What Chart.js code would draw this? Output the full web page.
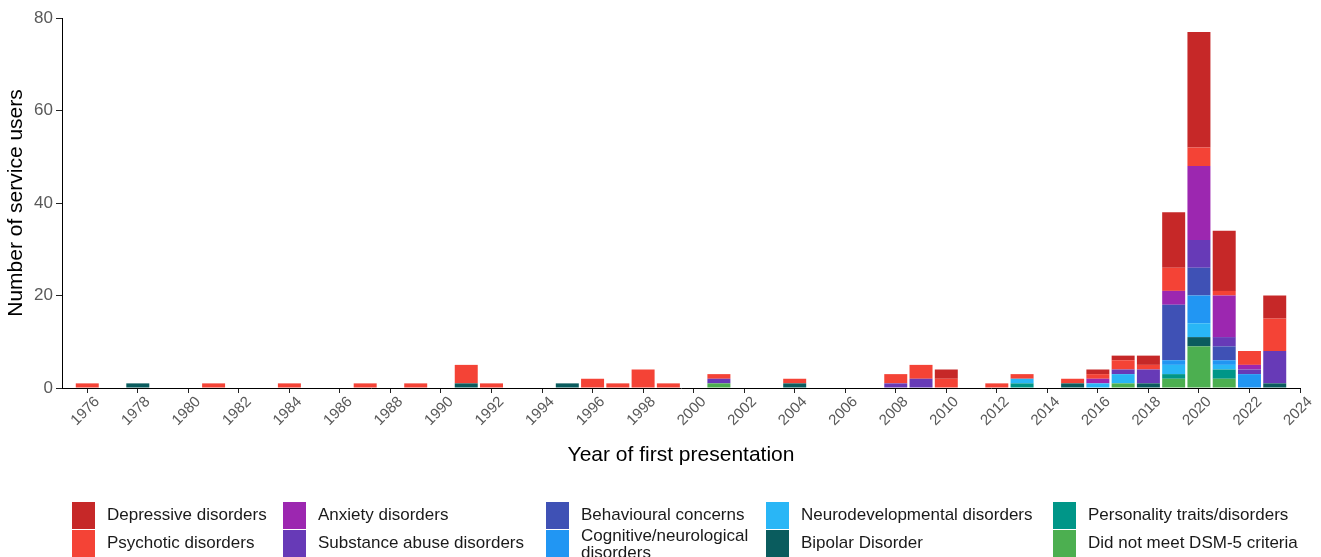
<!DOCTYPE html>
<html>
<head>
<meta charset="utf-8">
<script src="https://cdn.jsdelivr.net/npm/chart.js@4.4.1/dist/chart.umd.min.js"></script>
<style>
  html, body { margin: 0; padding: 0; background: #fff; }
  #wrap { position: relative; width: 1321px; height: 557px; overflow: hidden; font-family: 'Liberation Sans', Arial, sans-serif; }
  #c { position: absolute; left: 0; top: 0; }
  .lg-box { position: absolute; width: 23px; height: 27px; }
  .lg-text { position: absolute; font-size: 17px; color: #1a1a1a; line-height: 17px; width: 180px; }
</style>
</head>
<body>
<div id="wrap">
  <canvas id="c" width="1321" height="557"></canvas>
  <div id="legend"></div>
</div>
<script>
// years on the x axis, 1975..2024
const years = []
for (let y = 1975; y <= 2024; y++) years.push(String(y))

// counts per year, rows of ten years: 1975-84, 1985-94, 1995-2004, 2005-14, 2015-24
const depressive = [
  0,0,0,0,0,0,0,0,0,0,
  0,0,0,0,0,0,0,0,0,0,
  0,0,0,0,0,0,0,0,0,0,
  0,0,0,0,0,2,0,0,0,0,
  0,1,1,2,12,25,13,0,5,0
]
const psychotic = [
  0,1,0,0,0,0,1,0,0,1,
  0,0,1,0,1,0,4,1,0,0,
  0,2,1,4,1,0,1,0,0,1,
  0,0,0,2,3,2,0,1,1,0,
  1,1,2,1,5,4,1,3,7,0
]
const anxiety = [
  0,0,0,0,0,0,0,0,0,0,
  0,0,0,0,0,0,0,0,0,0,
  0,0,0,0,0,0,0,0,0,0,
  0,0,0,0,0,0,0,0,0,0,
  0,1,0,0,3,16,9,1,0,0
]
const substance = [
  0,0,0,0,0,0,0,0,0,0,
  0,0,0,0,0,0,0,0,0,0,
  0,0,0,0,0,0,1,0,0,0,
  0,0,0,1,2,0,0,0,0,0,
  0,0,1,3,0,6,2,1,7,0
]
const behavioural = [
  0,0,0,0,0,0,0,0,0,0,
  0,0,0,0,0,0,0,0,0,0,
  0,0,0,0,0,0,0,0,0,0,
  0,0,0,0,0,0,0,0,0,0,
  0,0,0,0,12,6,3,0,0,0
]
const cognitive = [
  0,0,0,0,0,0,0,0,0,0,
  0,0,0,0,0,0,0,0,0,0,
  0,0,0,0,0,0,0,0,0,0,
  0,0,0,0,0,0,0,0,0,0,
  0,0,0,0,1,6,1,3,0,0
]
const neurodevelopmental = [
  0,0,0,0,0,0,0,0,0,0,
  0,0,0,0,0,0,0,0,0,0,
  0,0,0,0,0,0,0,0,0,0,
  0,0,0,0,0,0,0,0,1,0,
  0,1,2,0,2,3,1,0,0,0
]
const bipolar = [
  0,0,0,1,0,0,0,0,0,0,
  0,0,0,0,0,0,1,0,0,0,
  1,0,0,0,0,0,0,0,0,1,
  0,0,0,0,0,0,0,0,0,0,
  1,0,0,1,0,2,0,0,1,0
]
const personality = [
  0,0,0,0,0,0,0,0,0,0,
  0,0,0,0,0,0,0,0,0,0,
  0,0,0,0,0,0,0,0,0,0,
  0,0,0,0,0,0,0,0,1,0,
  0,0,0,0,1,0,2,0,0,0
]
const notMet = [
  0,0,0,0,0,0,0,0,0,0,
  0,0,0,0,0,0,0,0,0,0,
  0,0,0,0,0,0,1,0,0,0,
  0,0,0,0,0,0,0,0,0,0,
  0,0,1,0,2,9,2,0,0,0
]

// legend order (top of stack first)
const seriesNames = [
  'Depressive disorders', 'Psychotic disorders',
  'Anxiety disorders', 'Substance abuse disorders',
  'Behavioural concerns', 'Cognitive/neurological disorders',
  'Neurodevelopmental disorders', 'Bipolar Disorder',
  'Personality traits/disorders', 'Did not meet DSM-5 criteria'
]
const seriesValues = [
  depressive, psychotic, anxiety, substance, behavioural,
  cognitive, neurodevelopmental, bipolar, personality, notMet
]
const seriesColors = [
  '#C62828', '#F44336', '#9C27B0', '#673AB7', '#3F51B5',
  '#2196F3', '#29B6F6', '#0A5C5E', '#009688', '#4CAF50'
]

const yTicks = [0, 20, 40, 60, 80]

// chart.js stacks the first dataset at the bottom, so reverse the legend order
const datasets = seriesNames.map((name, i) => ({
  label: name,
  data: seriesValues[i],
  backgroundColor: seriesColors[i],
  borderWidth: 0,
  barPercentage: 0.91,
  categoryPercentage: 1.0
})).reverse()

const font = "'Liberation Sans', Arial, sans-serif"

new Chart(document.getElementById('c'), {
  type: 'bar',
  data: { labels: years, datasets: datasets },
  options: {
    responsive: false,
    devicePixelRatio: 1,
    animation: false,
    layout: { padding: { top: 18, right: 21, bottom: 89, left: 0 } },
    plugins: {
      legend: { display: false },
      tooltip: { enabled: false }
    },
    scales: {
      x: {
        stacked: true,
        offset: false,
        grid: { offset: false, drawOnChartArea: false, tickLength: 5, color: '#222' },
        border: { display: true, color: '#000', width: 1 },
        ticks: {
          autoSkip: false,
          maxRotation: 45,
          minRotation: 45,
          padding: 0,
          labelOffset: 10,
          color: '#595959',
          font: { family: font, size: 15 },
          callback: function(value) {
            const yr = Number(this.getLabelForValue(value))
            return yr % 2 === 0 ? String(yr) : null
          }
        },
        title: {
          display: true,
          text: 'Year of first presentation',
          color: '#000',
          font: { family: font, size: 21 },
          padding: { top: 0, bottom: 0 }
        },
        afterFit: s => { s.height = 80 }
      },
      y: {
        stacked: true,
        min: 0,
        max: 80,
        afterBuildTicks: s => { s.ticks = yTicks.map(v => ({ value: v })) },
        grid: { drawOnChartArea: false, tickLength: 6, color: '#222' },
        border: { display: true, color: '#000', width: 1 },
        ticks: {
          padding: 3,
          color: '#595959',
          font: { family: font, size: 17 }
        },
        title: {
          display: true,
          text: 'Number of service users',
          color: '#000',
          font: { family: font, size: 21 },
          padding: { top: 4, bottom: 0 }
        },
        afterFit: s => { s.width = 62 }
      }
    }
  }
})

// legend: 2 rows, filled column by column
const colX = [72, 283, 546, 766, 1053]
const rowY = [502, 530]
const legend = document.getElementById('legend')
seriesNames.forEach((name, i) => {
  const col = Math.floor(i / 2), row = i % 2
  const box = document.createElement('div')
  box.className = 'lg-box'
  box.style.left = colX[col] + 'px'
  box.style.top = rowY[row] + 'px'
  box.style.background = seriesColors[i]
  legend.appendChild(box)
  const t = document.createElement('div')
  t.className = 'lg-text'
  t.textContent = name
  t.style.left = (colX[col] + 35) + 'px'
  const wraps = name.startsWith('Cognitive')
  t.style.width = wraps ? '175px' : '260px'
  t.style.top = (rowY[row] + (wraps ? -3 : 4)) + 'px'
  legend.appendChild(t)
})
</script>
</body>
</html>
